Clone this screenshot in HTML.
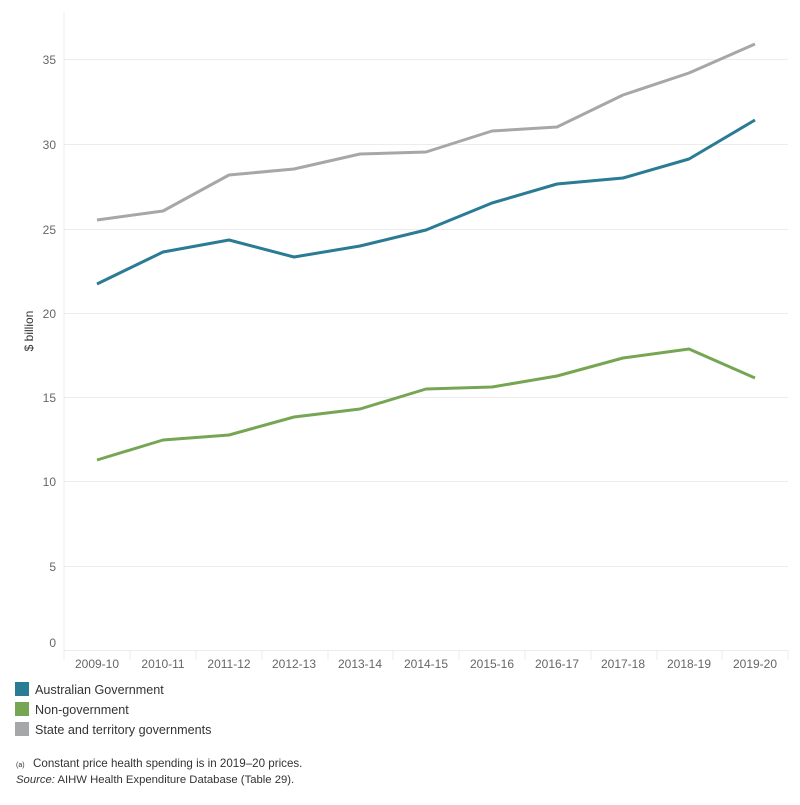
<!DOCTYPE html>
<html><head><meta charset="utf-8"><style>
body{margin:0;background:#fff;width:800px;height:800px;overflow:hidden;font-family:"Liberation Sans",sans-serif}
</style></head><body>
<svg width="800" height="800" xmlns="http://www.w3.org/2000/svg" font-family="Liberation Sans, sans-serif">
<g stroke="#ececec" stroke-width="1">
<line x1="64" y1="12" x2="64" y2="660"/>
<line x1="64" y1="650.5" x2="788" y2="650.5"/>
<line x1="64" y1="566.5" x2="788" y2="566.5"/>
<line x1="64" y1="481.5" x2="788" y2="481.5"/>
<line x1="64" y1="397.5" x2="788" y2="397.5"/>
<line x1="64" y1="313.5" x2="788" y2="313.5"/>
<line x1="64" y1="229.5" x2="788" y2="229.5"/>
<line x1="64" y1="144.5" x2="788" y2="144.5"/>
<line x1="64" y1="59.5" x2="788" y2="59.5"/>
<line x1="130" y1="650" x2="130" y2="660"/><line x1="196" y1="650" x2="196" y2="660"/><line x1="262" y1="650" x2="262" y2="660"/><line x1="328" y1="650" x2="328" y2="660"/><line x1="393" y1="650" x2="393" y2="660"/><line x1="459" y1="650" x2="459" y2="660"/><line x1="525" y1="650" x2="525" y2="660"/><line x1="591" y1="650" x2="591" y2="660"/><line x1="657" y1="650" x2="657" y2="660"/><line x1="722" y1="650" x2="722" y2="660"/><line x1="788" y1="650" x2="788" y2="660"/>
</g>
<g font-size="12" fill="#666" text-anchor="end">
<text x="56" y="647">0</text><text x="56" y="571">5</text><text x="56" y="486">10</text><text x="56" y="402">15</text><text x="56" y="318">20</text><text x="56" y="234">25</text><text x="56" y="149">30</text><text x="56" y="64">35</text>
</g>
<text transform="translate(33,331) rotate(-90)" font-size="12" fill="#333" text-anchor="middle">$ billion</text>
<g font-size="12" fill="#666" text-anchor="middle">
<text x="97" y="668">2009-10</text><text x="163" y="668">2010-11</text><text x="229" y="668">2011-12</text><text x="294" y="668">2012-13</text><text x="360" y="668">2013-14</text><text x="426" y="668">2014-15</text><text x="492" y="668">2015-16</text><text x="557" y="668">2016-17</text><text x="623" y="668">2017-18</text><text x="689" y="668">2018-19</text><text x="755" y="668">2019-20</text>
</g>
<g fill="none" stroke-width="3" stroke-linejoin="round">
<polyline stroke="#a5a7a9" points="97,220 163,211 229,175 294,169 360,154 426,152 492,131 557,127 623,95 689,73 755,44"/>
<polyline stroke="#2a7b94" points="97,284 163,252 229,240 294,257 360,246 426,230 492,203 557,184 623,178 689,159 755,120"/>
<polyline stroke="#76a653" points="97,460 163,440 229,435 294,417 360,409 426,389 492,387 557,376 623,358 689,349 755,378"/>
</g>
<rect x="15" y="682" width="14" height="14" fill="#2a7b94"/>
<rect x="15" y="702" width="14" height="14" fill="#76a653"/>
<rect x="15" y="722" width="14" height="14" fill="#a5a7a9"/>
<g font-size="12.6" fill="#333">
<text x="35" y="694">Australian Government</text>
<text x="35" y="714">Non-government</text>
<text x="35" y="734">State and territory governments</text>
<text x="16" y="767" font-size="7">(a)</text>
<text x="33" y="767" font-size="11.6">Constant price health spending is in 2019–20 prices.</text>
<text x="16" y="783" font-size="11.3"><tspan font-style="italic">Source:</tspan> AIHW Health Expenditure Database (Table 29).</text>
</g>
</svg>
</body></html>
